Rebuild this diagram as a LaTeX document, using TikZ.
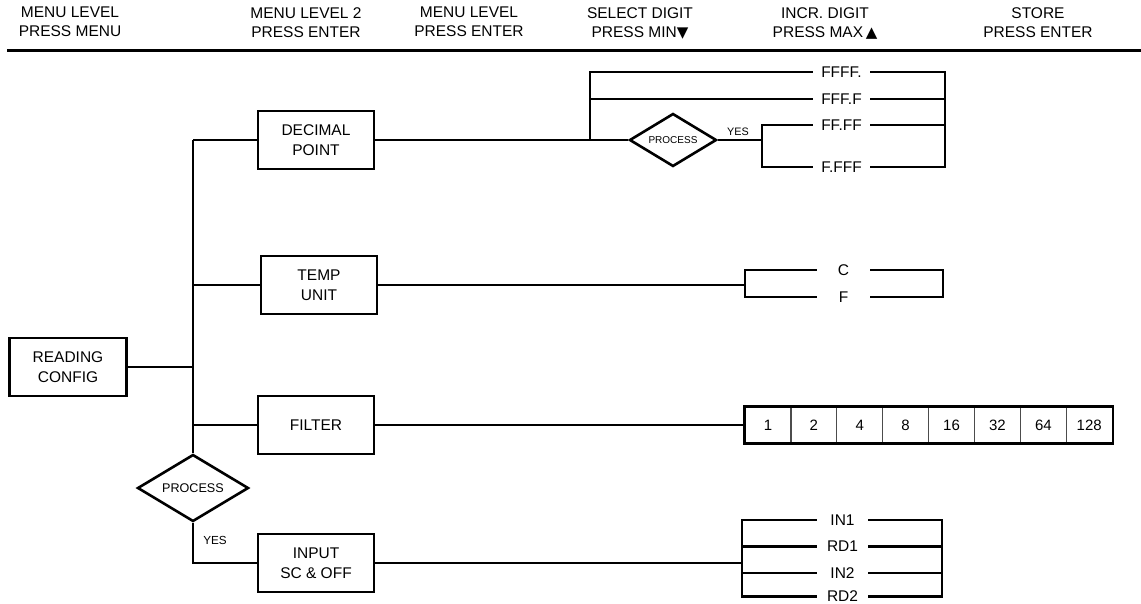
\documentclass[tikz,border=0pt]{standalone}
\usepackage{fontspec}
\setmainfont{Liberation Sans}
\newfontfamily\symfont{DejaVu Sans}
\usetikzlibrary{shapes.geometric}
\tikzset{
  conn/.style={line width=2.3pt},
  boxnode/.style={draw, line width=2.6pt, minimum width=116pt, minimum height=58pt, inner sep=0pt, align=center, font=\fontsize{15.5}{20}\selectfont},
  hdrtext/.style={anchor=north, inner sep=0pt, align=center, font=\fontsize{15.5}{19}\selectfont},
  procnode/.style={draw, diamond, line width=2.6pt, inner sep=0pt},
  optlabel/.style={inner sep=0pt, font=\fontsize{15.5}{18}\selectfont},
  cell/.style={draw=black!70, line width=1.2pt, minimum width=45.9pt, minimum height=36pt, inner sep=0pt, font=\fontsize{15}{18}\selectfont},
  yeslabel/.style={inner sep=0pt}
}
\begin{document}
\begin{tikzpicture}[x=1pt,y=-1pt]
\useasboundingbox (0,0) rectangle (1141,603);
% header
\node[hdrtext] (h1) at (70,7) {MENU LEVEL\\PRESS MENU};
\node[hdrtext] (h2) at (306,7) {MENU LEVEL 2\\PRESS ENTER};
\node[hdrtext] (h3) at (469,7) {MENU LEVEL\\PRESS ENTER};
\node[hdrtext] (h4) at (640,7) {SELECT DIGIT\\PRESS MIN{\symfont\fontsize{15}{15}\selectfont ▼}};
\node[hdrtext] (h5) at (825,7) {INCR. DIGIT\\PRESS MAX\,{\symfont\fontsize{15}{15}\selectfont ▲}};
\node[hdrtext] (h6) at (1038,7) {STORE\\PRESS ENTER};
\coordinate (hl) at (7,50);
\coordinate (hr) at (1141,50);
\draw[line width=3pt] (hl) -- (hr);
% boxes
\node[boxnode, minimum width=117pt] (rc) at (68,367) {READING\\CONFIG};
\node[boxnode] (dp) at (316,140) {DECIMAL\\POINT};
\node[boxnode] (tu) at (319,285) {TEMP\\UNIT};
\node[boxnode] (fi) at (316,425) {FILTER};
\node[boxnode] (in) at (316,563) {INPUT\\SC \& OFF};
\node[procnode, aspect=1.66, minimum width=111pt, minimum height=67pt, font=\fontsize{12.6}{14}\selectfont] (p1) at (193,488) {PROCESS};
\node[procnode, aspect=1.64, minimum width=87pt, minimum height=53pt, font=\fontsize{10}{12}\selectfont] (p2) at (673,140) {PROCESS};
% left bus
\coordinate (bt) at (193,140);
\draw[conn] (bt) -- (p1.north);
\draw[conn] (bt) -- (dp.west);
\draw[conn] (tu.west -| bt) -- (tu.west);
\draw[conn] (rc.east) -- (rc.east -| bt);
\draw[conn] (fi.west -| bt) -- (fi.west);
\draw[conn] (p1.south) |- (in.west);
\node[yeslabel, font=\fontsize{11.7}{12}\selectfont] (yes1) at (215,540) {YES};
% decimal point options
\node[optlabel, minimum width=57pt] (o1) at (841.5,72) {FFFF.};
\node[optlabel, minimum width=57pt] (o2) at (841.5,99) {FFF.F};
\node[optlabel, minimum width=57pt] (o3) at (841.5,125) {FF.FF};
\node[optlabel, minimum width=57pt] (o4) at (841.5,167) {F.FFF};
\coordinate (j1) at (590,140);
\coordinate (j2) at (762,140);
\coordinate (r1) at (945,72);
\draw[conn] (dp.east) -- (p2.west);
\draw[conn] (j1) |- (o1.west);
\draw[conn] (o2.west -| j1) -- (o2.west);
\draw[conn] (p2.east) -- (j2);
\draw[conn] (o3.west) -| (j2) |- (o4.west);
\draw[conn] (o1.east) -| (o4.east -| r1) -- (o4.east);
\draw[conn] (o2.east) -- (o2.east -| r1);
\draw[conn] (o3.east) -- (o3.east -| r1);
\node[yeslabel, font=\fontsize{10.8}{12}\selectfont] (yes2) at (738,132) {YES};
% temp unit options
\node[optlabel, minimum width=53pt] (tc) at (843.5,270) {C};
\node[optlabel, minimum width=53pt] (tf) at (843.5,297) {F};
\coordinate (j3) at (745,285);
\coordinate (r2) at (943,270);
\draw[conn] (tu.east) -- (j3);
\draw[conn] (tc.west) -| (j3) |- (tf.west);
\draw[conn] (tc.east) -| (tf.east -| r2) -- (tf.east);
% filter cells
\foreach \v [count=\i] in {1,2,4,8,16,32,64,128}
  \node[cell] (c\i) at ({745+45.9*(\i-0.5)},425) {\v};
\draw[line width=2.6pt] (c1.north west) rectangle (c8.south east);
\draw[conn] (fi.east) -- (c1.west);
% input options
\node[optlabel, minimum width=51pt] (i1) at (842.5,520) {IN1};
\node[optlabel, minimum width=51pt] (i2) at (842.5,546.5) {RD1};
\node[optlabel, minimum width=51pt] (i3) at (842.5,573) {IN2};
\node[optlabel, minimum width=51pt] (i4) at (842.5,596.5) {RD2};
\coordinate (j4) at (742,563);
\coordinate (r3) at (942,520);
\draw[conn] (in.east) -- (j4);
\draw[conn] (i1.west) -| (i4.west -| j4) -- (i4.west);
\draw[conn] (i2.west -| j4) -- (i2.west);
\draw[conn] (i3.west -| j4) -- (i3.west);
\draw[conn] (i1.east) -| (i4.east -| r3) -- (i4.east);
\draw[conn] (i2.east) -- (i2.east -| r3);
\draw[conn] (i3.east) -- (i3.east -| r3);
\end{tikzpicture}
\end{document}
